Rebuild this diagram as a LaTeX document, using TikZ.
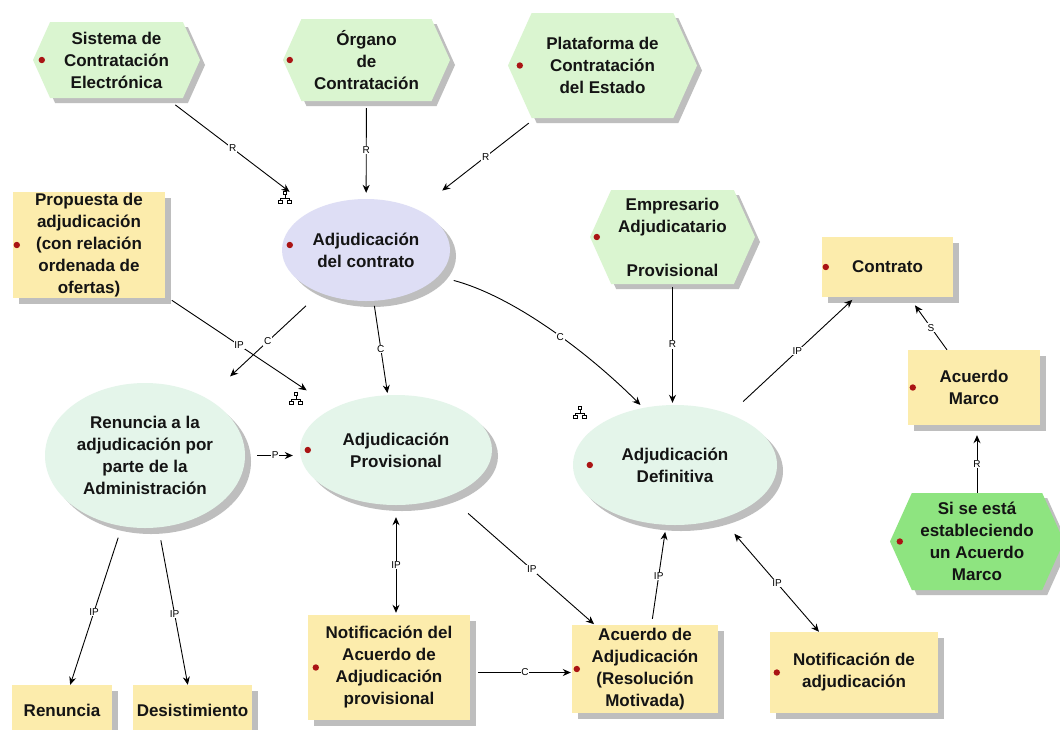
\documentclass[tikz,border=0pt]{standalone}
\usepackage{fontspec}
\setmainfont{Liberation Sans}
\usetikzlibrary{shapes.geometric,arrows.meta,shadows,calc}
\definecolor{hexg}{RGB}{218,245,208}
\definecolor{simg}{RGB}{142,228,128}
\definecolor{boxy}{RGB}{252,236,172}
\definecolor{lav}{RGB}{222,222,245}
\definecolor{mint}{RGB}{228,245,234}
\definecolor{shcol}{RGB}{190,190,190}
\definecolor{dotred}{RGB}{170,20,20}
\definecolor{txtc}{RGB}{20,20,20}
\tikzset{
  nfont/.style={font=\bfseries\fontsize{17}{22}\selectfont, text=txtc},
  shad/.style={drop shadow={shadow xshift=6pt,shadow yshift=-6pt,fill=shcol,opacity=1}},
  txt/.style={rectangle, inner sep=0pt, align=center, nfont},
  box/.style={rectangle, fill=boxy, inner sep=0pt, align=center, nfont, shad},
  ell/.style={ellipse, inner sep=0pt, align=center, nfont, shad},
  conn/.style={line width=0.9pt, -{Stealth[length=8pt,width=7pt]}},
  dconn/.style={line width=0.9pt, {Stealth[length=8pt,width=7pt]}-{Stealth[length=8pt,width=7pt]}},
  lab/.style={fill=white, inner sep=0.8pt, font=\fontsize{10}{10}\selectfont},
  orgicon/.pic={
    \draw[line width=0.9pt] (-1.8,-7) rectangle (1.8,-3.5);
    \draw[line width=0.9pt] (0,-3.5) -- (0,0) (-4.5,0) -- (4.5,0) (-4.5,0) -- (-4.5,2) (4.5,0) -- (4.5,2);
    \draw[line width=0.9pt] (-6.3,2) rectangle (-2.7,5.5) (2.7,2) rectangle (6.3,5.5);
  }
}
\newcommand\hexnode[7]{%
  \fill[shcol,xshift=5pt,yshift=-5pt] (#2-#4,#3) -- (#2-#4+0.45*#5,#3-#5) -- (#2+#4-0.45*#5,#3-#5) -- (#2+#4,#3) -- (#2+#4-0.45*#5,#3+#5) -- (#2-#4+0.45*#5,#3+#5) -- cycle;
  \fill[#6] (#2-#4,#3) -- (#2-#4+0.45*#5,#3-#5) -- (#2+#4-0.45*#5,#3-#5) -- (#2+#4,#3) -- (#2+#4-0.45*#5,#3+#5) -- (#2-#4+0.45*#5,#3+#5) -- cycle;
  \node[txt, minimum width=#4*2pt, minimum height=#5*2pt] (#1) at (#2,#3) {#7};
}
\begin{document}
\begin{tikzpicture}[x=1pt,y=-1pt]
\useasboundingbox (0,0) rectangle (1060,729);
\fill[white] (0,0) rectangle (1060,729);

% hexagons
\hexnode{sce}{116.5}{60}{83.5}{38}{hexg}{Sistema de\\Contratación\\Electrónica}
\hexnode{org}{366.5}{60}{83.5}{41}{hexg}{Órgano\\de\\Contratación}
\hexnode{pce}{602.5}{65.5}{94.5}{52.5}{hexg}{Plataforma de\\Contratación\\del Estado}
\hexnode{emp}{672.5}{237}{82.5}{47}{hexg}{Empresario\\Adjudicatario\\[22pt]Provisional}
\hexnode{sim}{977}{541.5}{87}{48.5}{simg}{Si se está\\estableciendo\\un Acuerdo\\Marco}

% boxes
\node[box, minimum width=152pt, minimum height=106pt] (prop) at (89,245) {Propuesta de\\adjudicación\\(con relación\\ordenada de\\ofertas)};
\node[box, minimum width=131pt, minimum height=60pt] (contrato) at (887.5,267) {Contrato};
\node[box, minimum width=132pt, minimum height=75pt] (acm) at (974,387.5) {Acuerdo\\Marco};
\node[box, minimum width=100pt, minimum height=50pt] (renb) at (62,710) {Renuncia};
\node[box, minimum width=119pt, minimum height=50pt] (des) at (192.5,710) {Desistimiento};
\node[box, minimum width=162pt, minimum height=105pt] (notp) at (389,667.5) {Notificación del\\Acuerdo de\\Adjudicación\\provisional};
\node[box, minimum width=146pt, minimum height=88pt] (acu) at (645,669) {Acuerdo de\\Adjudicación\\(Resolución\\Motivada)};
\node[box, minimum width=168pt, minimum height=81pt] (nota) at (854,672.5) {Notificación de\\adjudicación};

% ellipses
\node[ell, fill=lav, minimum width=168pt, minimum height=102pt] (adc) at (366,250) {Adjudicación\\del contrato};
\node[ell, fill=mint, minimum width=200pt, minimum height=145pt] (rene) at (145,455.5) {Renuncia a la\\adjudicación por\\parte de la\\Administración};
\node[ell, fill=mint, minimum width=192pt, minimum height=110pt] (adp) at (396,450) {Adjudicación\\Provisional};
\node[ell, fill=mint, minimum width=204pt, minimum height=120pt] (add) at (675,465) {Adjudicación\\Definitiva};

% red dots
\foreach \n/\dx in {sce/9,org/7,pce/12,emp/7,sim/10,prop/4,contrato/4,acm/5,notp/8,acu/5,nota/7,adp/8,add/17}
  \fill[dotred] ([xshift=\dx pt]\n.west) circle[radius=3.2pt];
\fill[dotred] ([xshift=8pt,yshift=5pt]adc.west) circle[radius=3.2pt];

% icons
\pic at (285,198) {orgicon};
\pic at (296,399) {orgicon};
\pic at (580,413) {orgicon};

% connectors
\draw[conn, shorten <=11pt, shorten >=30pt] (sce) -- node[lab,pos=0.45]{R} (adc);
\draw[conn, shorten <=7pt, shorten >=6pt] (org) -- node[lab]{R} (adc);
\draw[conn, shorten <=8pt, shorten >=31pt] (pce) -- node[lab,pos=0.42]{R} (adc);
\draw[conn, shorten <=8pt, shorten >=32pt] (prop) -- node[lab,pos=0.44]{IP} (adp);
\draw[conn, shorten <=19pt, shorten >=32pt] (adc) -- node[lab,pos=0.46]{C} (rene);
\draw[conn, shorten <=5pt, shorten >=2pt] (adc) -- node[lab,pos=0.51]{C} (adp);
\draw[conn, shorten <=16pt, shorten >=4pt] (adc.-20) .. controls +(-15:80pt) and +(135:75pt) .. node[lab,pos=0.55]{C} (add.119);
\draw[conn, shorten <=3pt, shorten >=2pt] (emp.south) -- node[lab]{R} (emp.south |- add.north);
\draw[conn, shorten <=18.5pt, shorten >=4pt] (add) -- node[lab,pos=0.54]{IP} (contrato);
\draw[conn, shorten >=10pt] (acm) -- node[lab,pos=0.42]{S} (contrato);
\draw[conn, shorten >=10pt] (sim.north) -- node[lab,pos=0.43]{R} (sim.north |- acm.south);
\draw[conn, shorten <=12pt, shorten >=7pt] (rene.east) -- node[lab,pos=0.55]{P} (rene.east -| adp.west);
\draw[conn, shorten <=12pt] (rene) -- node[lab,pos=0.54]{IP} (renb);
\draw[conn, shorten <=13pt] (rene) -- node[lab,pos=0.55]{IP} (des);
\draw[dconn, shorten <=12pt, shorten >=2pt] (adp.south) -- node[lab,pos=0.545]{IP} (adp.south |- notp.north);
\draw[conn, shorten <=26pt, shorten >=1pt] (adp) -- node[lab,pos=0.57]{IP} (acu);
\coordinate (nc) at ([yshift=-5pt]notp.east);
\draw[conn, shorten <=8pt, shorten >=1pt] (nc) -- node[lab,pos=0.54]{C} (nc -| acu.west);
\draw[conn, shorten <=6pt, shorten >=7pt] (acu) -- node[lab,pos=0.49]{IP} (add);
\draw[dconn, shorten <=20pt] (add) -- node[lab,pos=0.57]{IP} (nota);
\end{tikzpicture}
\end{document}
